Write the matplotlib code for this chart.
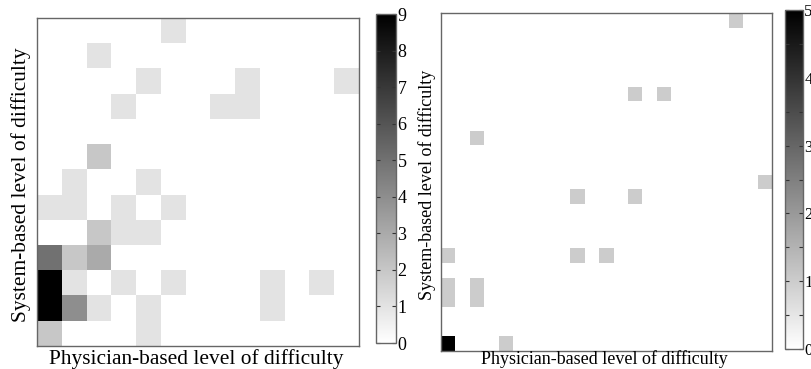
import numpy as np
import matplotlib
matplotlib.use("Agg")
import matplotlib.pyplot as plt

plt.rcParams['font.family'] = ['Liberation Serif', 'DejaVu Serif']

# left panel: counts, top row first (13 x 13 levels)
left_counts = [
    [0, 0, 0, 0, 0, 1, 0, 0, 0, 0, 0, 0, 0],
    [0, 0, 1, 0, 0, 0, 0, 0, 0, 0, 0, 0, 0],
    [0, 0, 0, 0, 1, 0, 0, 0, 1, 0, 0, 0, 1],
    [0, 0, 0, 1, 0, 0, 0, 1, 1, 0, 0, 0, 0],
    [0, 0, 0, 0, 0, 0, 0, 0, 0, 0, 0, 0, 0],
    [0, 0, 2, 0, 0, 0, 0, 0, 0, 0, 0, 0, 0],
    [0, 1, 0, 0, 1, 0, 0, 0, 0, 0, 0, 0, 0],
    [1, 1, 0, 1, 0, 1, 0, 0, 0, 0, 0, 0, 0],
    [0, 0, 2, 1, 1, 0, 0, 0, 0, 0, 0, 0, 0],
    [5, 2, 3, 0, 0, 0, 0, 0, 0, 0, 0, 0, 0],
    [9, 1, 0, 1, 0, 1, 0, 0, 0, 1, 0, 1, 0],
    [9, 4, 1, 0, 1, 0, 0, 0, 0, 1, 0, 0, 0],
    [2, 0, 0, 0, 1, 0, 0, 0, 0, 0, 0, 0, 0],
]
left_ticks = list(range(0, 10))

# right panel: sparse cells on a 23 x 23 grid (row counted from bottom)
right_size = 23
right_rows = [0, 0, 3, 3, 4, 4, 6, 6, 6, 10, 10, 11, 14, 17, 17, 22]
right_cols = [0, 4, 0, 2, 0, 2, 0, 9, 11, 9, 13, 22, 2, 13, 15, 20]
right_vals = [5, 1, 1, 1, 1, 1, 1, 1, 1, 1, 1, 1, 1, 1, 1, 1]
right_ticks = list(range(0, 6))

xlabel = 'Physician-based level of difficulty'
ylabel = 'System-based level of difficulty'

W, H = 812, 369
FRAME = '#666666'


def px_box(x0, y0, x1, y1):
    """Pixel box (top-left origin) to figure fraction rect."""
    return [x0 / W, 1 - y1 / H, (x1 - x0) / W, (y1 - y0) / H]


def style_frame(ax):
    ax.set_xticks([])
    ax.set_yticks([])
    for sp in ax.spines.values():
        sp.set_color(FRAME)
        sp.set_linewidth(1.0)


def style_cbar(cb, ticks, minor, size):
    cax = cb.ax
    cb.outline.set_edgecolor(FRAME)
    cb.outline.set_linewidth(1.0)
    cax.set_yticks(ticks)
    cax.set_yticklabels([str(t) for t in ticks])
    if minor:
        cax.set_yticks(minor, minor=True)
    cax.tick_params(which='both', direction='in', left=True, right=True,
                    length=3, width=0.8, color='#333333', pad=1,
                    labelsize=size)


fig = plt.figure(figsize=(W / 100, H / 100), dpi=100)

# left heatmap
ax1 = fig.add_axes(px_box(37, 18, 359, 346))
left = np.array(left_counts)
im1 = ax1.imshow(left, cmap='gray_r', vmin=0, vmax=9, aspect='auto',
                 interpolation='nearest')
style_frame(ax1)
cax1 = fig.add_axes(px_box(376, 14, 396, 343))
cb1 = fig.colorbar(im1, cax=cax1)
style_cbar(cb1, left_ticks, None, 13)
fig.text(196.5 / W, 1 - 364 / H, xlabel, ha='center', va='baseline',
         fontsize=15.4)
fig.text(21 / W, 1 - 185 / H, ylabel, ha='center', va='center',
         rotation=90, fontsize=15.4)

# right heatmap
grid = np.zeros((right_size, right_size))
for r, c, v in zip(right_rows, right_cols, right_vals):
    grid[r, c] = v
ax2 = fig.add_axes(px_box(441, 13, 772, 351))
im2 = ax2.imshow(grid, cmap='gray_r', vmin=0, vmax=5, aspect='auto',
                 origin='lower', interpolation='nearest')
style_frame(ax2)
cax2 = fig.add_axes(px_box(785, 10, 803, 349))
cb2 = fig.colorbar(im2, cax=cax2)
style_cbar(cb2, right_ticks, [0.5, 1.5, 2.5, 3.5, 4.5], 12)
fig.text(604 / W, 1 - 364.5 / H, xlabel, ha='center', va='baseline',
         fontsize=13)
fig.text(427 / W, 1 - 185 / H, ylabel, ha='center', va='center',
         rotation=90, fontsize=13)

fig.savefig('out.png', dpi=100)
